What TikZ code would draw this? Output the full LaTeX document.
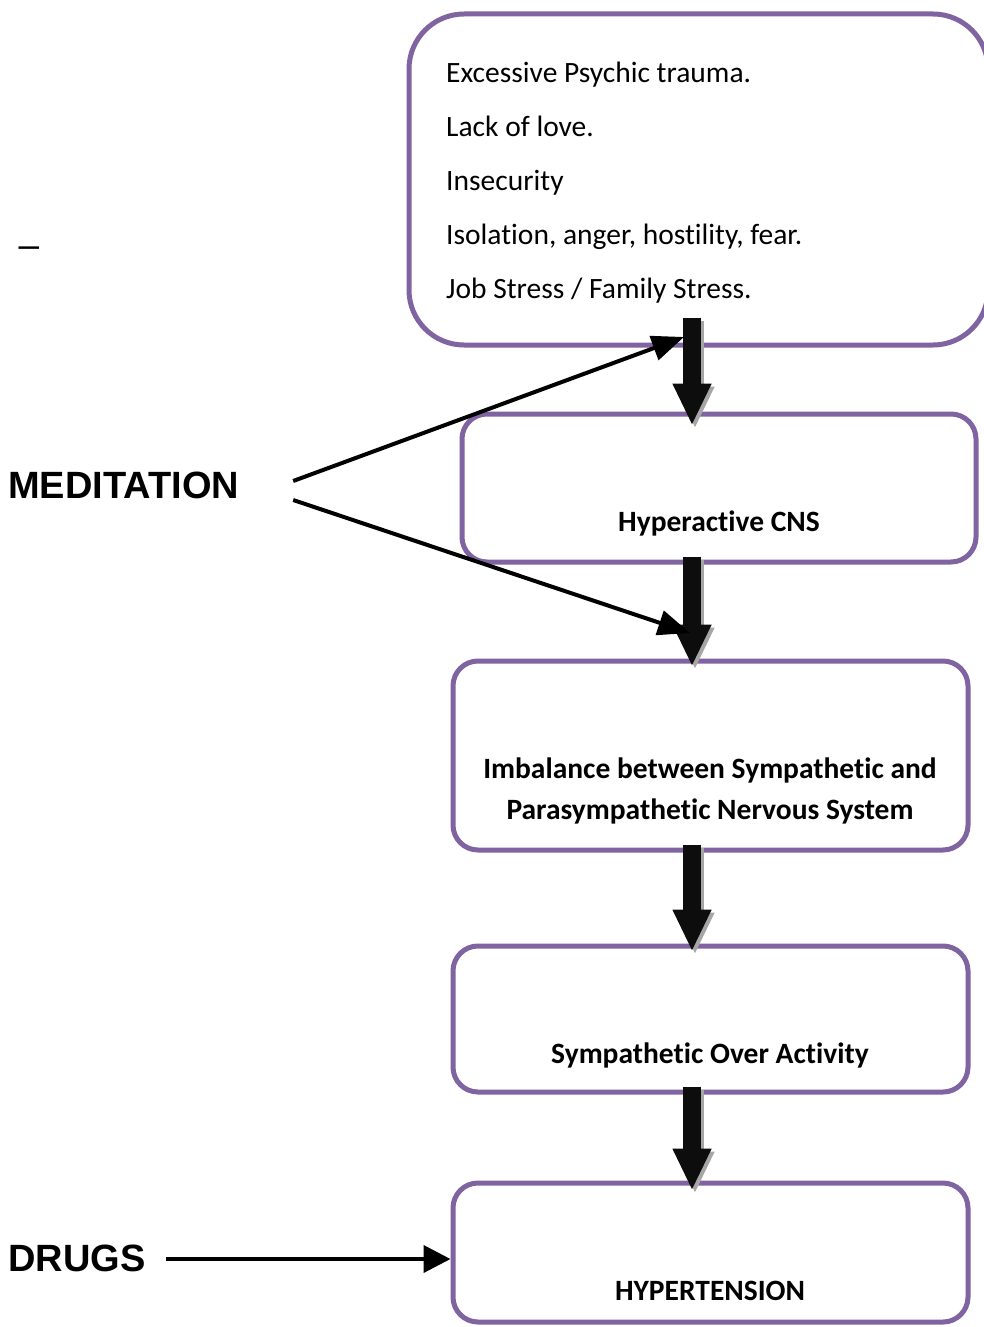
\documentclass[tikz,border=0pt]{standalone}
\usepackage{fontspec}
\setmainfont{Carlito}[Ligatures=NoCommon]
\newfontfamily\arialfont{Liberation Sans}
\usetikzlibrary{positioning,calc,arrows.meta}
\definecolor{boxpurple}{HTML}{8064A2}
\tikzset{
  stage/.style={draw=boxpurple, line width=5pt, rounded corners=25pt, minimum width=515pt, inner sep=0pt},
  stagelbl/.style={font=\fontsize{29.5}{41}\selectfont\bfseries, align=center, inner sep=0pt},
  bigarrow/.style={line width=18pt, -{Triangle[length=42pt,width=36pt]}},
  thinarrow/.style={line width=4pt, -{Triangle[length=32pt,width=25pt]}},
  sidelbl/.style={font=\arialfont\fontsize{38}{40}\selectfont\bfseries, inner sep=0pt}
}
\begin{document}
\begin{tikzpicture}[x=1pt,y=-1pt]
 \useasboundingbox (0,0) rectangle (983,1327);

 % boxes
 \node (causes) [stage, rounded corners=55pt, minimum width=579pt, minimum height=331pt] at (698.5,179.5) {};
 \node (causestxt) [anchor=west, align=left, inner sep=0pt, font=\fontsize{29.5}{54}\selectfont] at (446,183)
   {Excessive Psychic trauma.\\ Lack of love.\\ Insecurity\\ Isolation, anger, hostility, fear.\\ Job Stress / Family Stress.};

 \node (cns) [stage, minimum width=514pt, minimum height=148pt] at (719,488) {};
 \node (cnslbl) [stagelbl] at (719,523) {Hyperactive CNS};

 \node (imb) [stage, minimum height=189pt] at (710.5,755.5) {};
 \node (imblbl) [stagelbl] at (710,791) {Imbalance between Sympathetic and\\ Parasympathetic Nervous System};

 \node (symp) [stage, minimum height=146pt] at (710.5,1019) {};
 \node (symplbl) [stagelbl] at (710,1055) {Sympathetic Over Activity};

 \node (htn) [stage, minimum height=139pt] at (710.5,1252.5) {};
 \node (htnlbl) [stagelbl] at (710,1291) {HYPERTENSION};

 % fat arrows down the chain
 \coordinate (spine) at (692,0);
 \foreach \a/\b/\s/\e in {causes/cns/30/14, cns/imb/8/8, imb/symp/8/8, symp/htn/8/10}{
   \draw [bigarrow, black!35, transform canvas={shift={(3pt,-3pt)}}] ($(\a.south -| spine)+(0,-\s)$) -- ($(\b.north -| spine)+(0,\e)$);
   \draw [bigarrow, black!95] ($(\a.south -| spine)+(0,-\s)$) -- ($(\b.north -| spine)+(0,\e)$);
 }

 % side labels
 \node (dash) [sidelbl, font=\arialfont\fontsize{37}{40}\selectfont] at (29,252) {–};
 \node (med) [sidelbl, anchor=west] at (8,485) {MEDITATION};
 \node (drugs) [sidelbl, anchor=west] at (8,1258) {DRUGS};

 \coordinate (medA) at ($(med.east)+(54,-4)$);
 \coordinate (medB) at ($(med.east)+(54,15)$);
 \coordinate (tipA) at (684,337);
 \coordinate (tipB) at (690,633);
 \draw [thinarrow] (medA) -- (tipA);
 \draw [thinarrow] (medB) -- (tipB);

 \draw [thinarrow, -{Triangle[length=27pt,width=27pt]}] ($(drugs.east)+(20,1)$) -- ($(drugs.east -| htn.west)+(0,1)$);
\end{tikzpicture}
\end{document}
